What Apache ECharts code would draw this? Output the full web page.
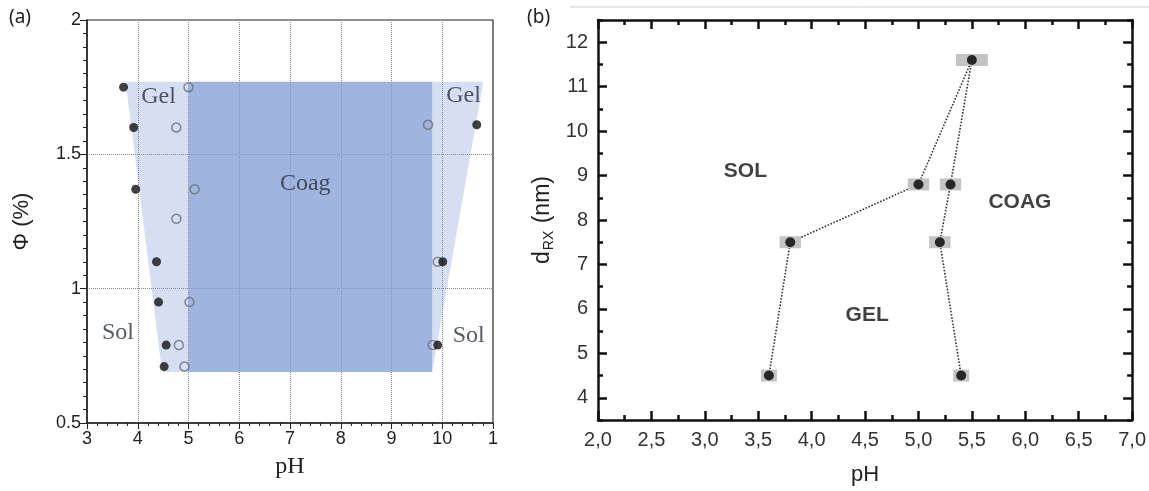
<!DOCTYPE html>
<html>
<head>
<meta charset="utf-8">
<script src="https://cdn.jsdelivr.net/npm/echarts@6/dist/echarts.min.js"></script>
<style>
  html, body { margin: 0; padding: 0; background: #fff; }
  #chart { width: 1149px; height: 491px; }
</style>
</head>
<body>
<div id="chart"></div>
<script>
// ---- panel (a): phi vs pH ----
const xTicksA = ['3', '4', '5', '6', '7', '8', '9', '10', '1'];
const gelRegionA = [[3.76, 1.77], [10.81, 1.77], [9.8, 0.69], [4.48, 0.69]];
const coagRegionA = [[5.0, 1.77], [9.8, 1.77], [9.8, 0.69], [5.0, 0.69]];
const closedA = [
    [3.72, 1.75], [3.92, 1.60], [3.96, 1.37], [4.37, 1.10], [4.41, 0.95], [4.56, 0.79], [4.52, 0.71],
    [10.68, 1.61], [10.01, 1.10], [9.91, 0.79]
];
const openA = [
    [5.0, 1.75], [4.76, 1.60], [5.12, 1.37], [4.76, 1.26], [5.02, 0.95], [4.81, 0.79], [4.92, 0.71],
    [9.72, 1.61], [9.91, 1.10], [9.81, 0.79]
];
const labelsA = [
    {name: 'Gel', value: [4.41, 1.715]},
    {name: 'Gel', value: [10.42, 1.72]},
    {name: 'Coag', value: [7.3, 1.39]},
    {name: 'Sol', value: [3.61, 0.836]},
    {name: 'Sol', value: [10.52, 0.824]}
];

// ---- panel (b): d_RX vs pH ----
const phB = [3.6, 3.8, 5.0, 5.5, 5.3, 5.2, 5.4];
const dB = [4.5, 7.5, 8.8, 11.6, 8.8, 7.5, 4.5];
const errPhB = [0.075, 0.1, 0.1, 0.15, 0.1, 0.1, 0.075];
const yTicksB = [4, 5, 6, 7, 8, 9, 10, 11, 12];
const labelsB = [
    {name: 'SOL', value: [3.38, 9.1]},
    {name: 'COAG', value: [5.95, 8.41]},
    {name: 'GEL', value: [4.52, 5.86]}
];

const pointsB = phB.map((x, i) => [x, dB[i], errPhB[i]]);

function polygon(verts, fill) {
    return function (params, api) {
        if (params.dataIndex !== 0) return;
        return {
            type: 'polygon',
            shape: {points: verts.map(v => api.coord(v))},
            style: {fill: fill}
        };
    };
}

const gridLine = {show: true, lineStyle: {color: '#8a8a8a', type: 'dotted', width: 1}};
const axisA = {color: '#222', fontFamily: 'Liberation Sans', fontSize: 18};
const axisB = {color: '#333', fontFamily: 'Liberation Sans', fontSize: 20};
const lineB = {show: true, lineStyle: {color: '#111', width: 2.5}};

const myChart = echarts.init(document.getElementById('chart'));
const option = {
    animation: false,
    backgroundColor: '#fff',
    graphic: [
        {type: 'text', left: 9, top: 8, style: {text: '(a)', font: '19px "Noto Sans"', fill: '#222'}},
        {type: 'text', left: 527, top: 8, style: {text: '(b)', font: '19px "Noto Sans"', fill: '#222'}},
        {type: 'line', shape: {x1: 570, y1: 7, x2: 1149, y2: 7}, style: {stroke: '#cfcfcf', lineWidth: 1}}
    ],
    grid: [
        {left: 87, right: 656, top: 20, bottom: 68, show: true, borderColor: '#222', borderWidth: 1.2},
        {left: 598, right: 16, top: 20, bottom: 65}
    ],
    xAxis: [
        {
            gridIndex: 0, type: 'value', min: 3, max: 11, interval: 1,
            name: 'pH', nameLocation: 'middle', nameGap: 32,
            nameTextStyle: {fontFamily: 'Liberation Serif', fontSize: 24, color: '#222'},
            axisLine: {show: true, lineStyle: {color: '#222', width: 1.5}},
            axisTick: {show: true, length: 6, lineStyle: {color: '#222'}},
            minorTick: {show: true, splitNumber: 5, length: 3, lineStyle: {color: '#222'}},
            axisLabel: Object.assign({margin: 7, formatter: (v) => xTicksA[Math.round(v) - 3]}, axisA),
            splitLine: gridLine
        },
        {
            gridIndex: 1, type: 'value', min: 2, max: 7, interval: 0.5,
            name: 'pH', nameLocation: 'middle', nameGap: 44,
            nameTextStyle: {fontFamily: 'Liberation Sans', fontSize: 22, color: '#222'},
            axisLine: lineB,
            axisTick: {show: true, inside: true, length: 9, lineStyle: {color: '#111', width: 2.5}},
            minorTick: {show: true, splitNumber: 2, length: 5, lineStyle: {color: '#111', width: 2.5}},
            axisLabel: Object.assign({margin: 10, formatter: (v) => v.toFixed(1).replace('.', ',')}, axisB),
            splitLine: {show: false}
        },
        {
            gridIndex: 1, type: 'value', min: 2, max: 7, interval: 0.5, position: 'top',
            axisLine: lineB,
            axisTick: {show: true, inside: true, length: 9, lineStyle: {color: '#111', width: 2.5}},
            minorTick: {show: true, splitNumber: 2, length: 5, lineStyle: {color: '#111', width: 2.5}},
            axisLabel: {show: false},
            splitLine: {show: false}
        }
    ],
    yAxis: [
        {
            gridIndex: 0, type: 'value', min: 0.5, max: 2, interval: 0.5,
            name: 'Φ (%)', nameLocation: 'middle', nameGap: 54,
            nameTextStyle: {fontFamily: 'Liberation Sans', fontSize: 22, color: '#222'},
            axisLine: {show: true, lineStyle: {color: '#222', width: 1.5}},
            axisTick: {show: true, length: 7, lineStyle: {color: '#222'}},
            minorTick: {show: true, splitNumber: 10, length: 4, lineStyle: {color: '#222'}},
            axisLabel: Object.assign({margin: 6}, axisA),
            splitLine: gridLine
        },
        {
            gridIndex: 1, type: 'value', min: 3.5, max: 12.5, interval: 0.5, position: 'left',
            axisLine: lineB,
            axisTick: {show: true, inside: true, length: 5, lineStyle: {color: '#111', width: 2.5}},
            axisLabel: {show: false},
            splitLine: {show: false}
        },
        {
            gridIndex: 1, type: 'value', min: 3.5, max: 12.5, interval: 0.5, position: 'left',
            name: '{n|d}{s|RX}{n| (nm)}', nameLocation: 'middle', nameGap: 42,
            nameTextStyle: {
                color: '#222',
                rich: {
                    n: {fontFamily: 'Liberation Sans', fontSize: 23, color: '#222'},
                    s: {fontFamily: 'Liberation Sans', fontSize: 14, color: '#222', padding: [12, 1, 0, 1]}
                }
            },
            axisLine: {show: false},
            axisTick: {show: true, inside: true, length: 9, customValues: yTicksB, lineStyle: {color: '#111', width: 2.5}},
            axisLabel: Object.assign({margin: 10, customValues: yTicksB}, axisB),
            splitLine: {show: false}
        },
        {
            gridIndex: 1, type: 'value', min: 3.5, max: 12.5, interval: 0.5, position: 'right',
            axisLine: lineB,
            axisTick: {show: true, inside: true, length: 5, lineStyle: {color: '#111', width: 2.5}},
            axisLabel: {show: false},
            splitLine: {show: false}
        },
        {
            gridIndex: 1, type: 'value', min: 3.5, max: 12.5, interval: 0.5, position: 'right',
            axisLine: {show: false},
            axisTick: {show: true, inside: true, length: 9, customValues: yTicksB, lineStyle: {color: '#111', width: 2.5}},
            axisLabel: {show: false},
            splitLine: {show: false}
        }
    ],
    series: [
        {
            type: 'custom', xAxisIndex: 0, yAxisIndex: 0, silent: true,
            renderItem: polygon(gelRegionA, 'rgba(115,148,208,0.30)'),
            data: gelRegionA, encode: {x: 0, y: 1}, z: 1
        },
        {
            type: 'custom', xAxisIndex: 0, yAxisIndex: 0, silent: true,
            renderItem: polygon(coagRegionA, 'rgba(128,153,213,0.62)'),
            data: coagRegionA, encode: {x: 0, y: 1}, z: 2
        },
        {
            type: 'scatter', xAxisIndex: 0, yAxisIndex: 0, data: openA,
            symbol: 'circle', symbolSize: 9, z: 3,
            itemStyle: {color: 'rgba(0,0,0,0)', borderColor: '#6a6f7a', borderWidth: 1.5}
        },
        {
            type: 'scatter', xAxisIndex: 0, yAxisIndex: 0, data: closedA,
            symbol: 'circle', symbolSize: 9, z: 4,
            itemStyle: {color: '#111'}
        },
        {
            type: 'scatter', xAxisIndex: 0, yAxisIndex: 0, data: labelsA,
            symbolSize: 0, z: 5, silent: true,
            label: {
                show: true, position: 'inside', formatter: '{b}',
                fontFamily: 'Liberation Serif', fontSize: 24, color: '#2a2f3a'
            }
        },
        {
            type: 'line', xAxisIndex: 1, yAxisIndex: 2, data: phB.map((x, i) => [x, dB[i]]),
            symbol: 'none', z: 3,
            lineStyle: {color: '#333', width: 1.6, type: 'dotted'}
        },
        {
            type: 'custom', xAxisIndex: 1, yAxisIndex: 2, data: pointsB, z: 4,
            encode: {x: 0, y: 1},
            renderItem: function (params, api) {
                const l = api.coord([api.value(0) - api.value(2), api.value(1)]);
                const r = api.coord([api.value(0) + api.value(2), api.value(1)]);
                return {
                    type: 'rect',
                    shape: {x: l[0], y: l[1] - 6, width: r[0] - l[0], height: 12},
                    style: {fill: '#c4c4c4'}
                };
            }
        },
        {
            type: 'scatter', xAxisIndex: 1, yAxisIndex: 2, data: phB.map((x, i) => [x, dB[i]]),
            symbol: 'circle', symbolSize: 10, z: 5,
            itemStyle: {color: '#000'}
        },
        {
            type: 'scatter', xAxisIndex: 1, yAxisIndex: 2, data: labelsB,
            symbolSize: 0, z: 6, silent: true,
            label: {
                show: true, position: 'inside', formatter: '{b}',
                fontFamily: 'Liberation Sans', fontWeight: 'bold', fontSize: 21, color: '#111'
            }
        }
    ]
};
myChart.setOption(option);
</script>
</body>
</html>
